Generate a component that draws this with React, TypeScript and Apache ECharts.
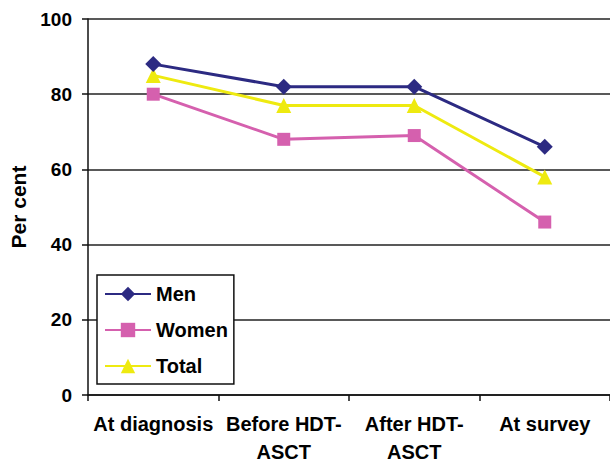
import React, { useEffect, useRef } from "react";
import * as echarts from "echarts";

const categories = ["At diagnosis", "Before HDT-\nASCT", "After HDT-\nASCT", "At survey"];
const menValues = [88, 82, 82, 66];
const womenValues = [80, 68, 69, 46];
const totalValues = [85, 77, 77, 58];
const yTicks = { min: 0, max: 100, interval: 20 };

const FONT = "'Liberation Sans', Arial, sans-serif";

export default function App() {
  const ref = useRef<HTMLDivElement>(null);
  useEffect(() => {
    if (!ref.current) return;
    const chart = echarts.init(ref.current, null, { renderer: "svg" });
    chart.setOption({
      animation: false,
      backgroundColor: "#ffffff",
      textStyle: { fontFamily: FONT },
      grid: { left: 88, top: 19, width: 528, height: 376, containLabel: false },
      legend: {
        orient: "vertical",
        left: 97,
        top: 275,
        padding: [9, 6, 8, 7],
        itemWidth: 46,
        itemHeight: 18,
        itemGap: 16,
        backgroundColor: "#ffffff",
        borderColor: "#111111",
        borderWidth: 1.5,
        textStyle: { fontFamily: FONT, fontWeight: "bold", fontSize: 20, color: "#000", lineHeight: 20 },
        data: ["Men", "Women", "Total"],
      },
      xAxis: {
        type: "category",
        data: categories,
        boundaryGap: true,
        axisLine: { show: true, lineStyle: { color: "#111", width: 1.5 } },
        axisTick: { show: true, length: 6, inside: false, lineStyle: { color: "#111", width: 1.5 } },
        axisLabel: {
          interval: 0,
          margin: 15,
          fontFamily: FONT,
          fontWeight: "bold",
          fontSize: 20,
          lineHeight: 28,
          color: "#000",
        },
        splitLine: { show: false },
      },
      yAxis: {
        type: "value",
        min: yTicks.min,
        max: yTicks.max,
        interval: yTicks.interval,
        name: "Per cent",
        nameLocation: "middle",
        nameRotate: 90,
        nameGap: 58,
        nameTextStyle: { fontFamily: FONT, fontWeight: "bold", fontSize: 21, color: "#000" },
        axisLine: { show: true, lineStyle: { color: "#111", width: 1.5 } },
        axisTick: { show: true, length: 6, lineStyle: { color: "#111", width: 1.5 } },
        axisLabel: { margin: 16, fontFamily: FONT, fontWeight: "bold", fontSize: 19, color: "#000" },
        splitLine: { show: true, lineStyle: { color: "#222", width: 1.5 } },
      },
      series: [
        {
          name: "Men",
          type: "line",
          data: menValues,
          symbol: "diamond",
          symbolSize: 16,
          lineStyle: { color: "#2C2A82", width: 3 },
          itemStyle: { color: "#2C2A82" },
          z: 4,
        },
        {
          name: "Women",
          type: "line",
          data: womenValues,
          symbol: "rect",
          symbolSize: 13,
          lineStyle: { color: "#D560AE", width: 3 },
          itemStyle: { color: "#D560AE" },
          z: 2,
        },
        {
          name: "Total",
          type: "line",
          data: totalValues,
          symbol: "triangle",
          symbolSize: 15,
          lineStyle: { color: "#EEEA10", width: 3 },
          itemStyle: { color: "#EEEA10" },
          z: 3,
        },
      ],
    });
    return () => chart.dispose();
  }, []);
  return (
    <div
      ref={ref}
      style={{ position: "fixed", left: 0, top: 0, width: 610, height: 468 }}
    />
  );
}
